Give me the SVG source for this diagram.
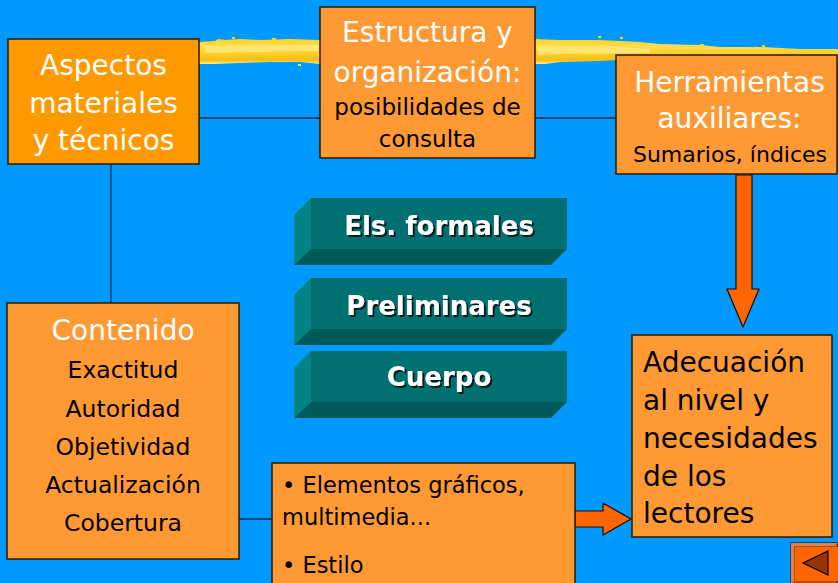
<svg xmlns="http://www.w3.org/2000/svg" width="838" height="583" viewBox="0 0 838 583">
<defs>
<style>
.box{fill:#FF9933;stroke:#2a1a00;stroke-width:1.5}
.wt{font-family:"DejaVu Sans",sans-serif;font-size:28px;fill:#FFFFFF;text-anchor:middle}
.bk{font-family:"DejaVu Sans",sans-serif;fill:#000000}
.bt{font-family:"DejaVu Sans",sans-serif;font-weight:bold;font-size:26px;fill:#FFFFFF;text-anchor:middle;filter:url(#sh)}
.ln{stroke:#0a2f55;stroke-width:1.3;fill:none}
.arr{fill:#FF6600;stroke:#1a0a00;stroke-width:1.2;stroke-linejoin:miter}
</style>
<linearGradient id="yel" x1="0" y1="0" x2="0" y2="1">
<stop offset="0" stop-color="#FFD21E"/>
<stop offset="0.3" stop-color="#FFDD50"/>
<stop offset="0.6" stop-color="#FFCC22"/>
<stop offset="0.85" stop-color="#F2C014"/>
<stop offset="1" stop-color="#FFEE99"/>
</linearGradient>
<filter id="sh" x="-10%" y="-20%" width="120%" height="150%">
<feDropShadow dx="2" dy="2" stdDeviation="0.5" flood-color="#001a1a" flood-opacity="1"/>
</filter>
<g id="slab">
<polygon points="294,17 311,0 311,51 294,67" fill="#008484"/>
<polygon points="311,51 567,51 551,67 294,67" fill="#005A5A"/>
<rect x="311" y="0" width="256" height="51" fill="#007070"/>
</g>
</defs>
<rect x="0" y="0" width="838" height="583" fill="#0099FF"/>
<g id="brush">
<path d="M199,42 L215,41 L218,39 L226,40 L240,39 L262,40 L290,39 L320,40 L535,39 L560,40 L600,40 L640,42 L660,44 L700,45 L720,47 L760,47 L800,49 L838,49 L838,60 L760,58 L700,57 L640,59 L600,61 L560,62 L545,64 L535,64 L320,64 L300,62 L270,62 L240,63 L215,64 L199,64 Z" fill="url(#yel)"/>
<path d="M205,46 L320,45 L320,51 L260,52 L205,53 Z M538,46 L620,47 L650,49 L650,53 L560,54 L538,55 Z" fill="#FFE880" opacity="0.8"/>
<rect x="232" y="37" width="3" height="2" fill="#FFCC22"/>
<rect x="272" y="38" width="4" height="2" fill="#FFCC22"/>
<rect x="598" y="36" width="3" height="2" fill="#FFCC22"/>
<rect x="620" y="37" width="3" height="2" fill="#FFCC22"/>
<rect x="700" y="44" width="4" height="2" fill="#FFCC22"/>
<rect x="762" y="45" width="3" height="2" fill="#FFCC22"/>
<rect x="298" y="64" width="3" height="2" fill="#FFE27A"/>
</g>
<g id="connectors">
<line class="ln" x1="199" y1="118" x2="616" y2="118"/>
<line class="ln" x1="111" y1="164" x2="111" y2="303"/>
<line class="ln" x1="239" y1="519" x2="272" y2="519"/>
<polygon class="arr" points="736,175 752,175 752,289 759,289 743,327 727,289 736,289"/>
<polygon class="arr" points="575,511 603,511 603,503 631,519 603,535 603,527 575,527"/>
</g>
<g id="aspectos">
<rect class="box" x="8" y="39" width="191" height="125" style="fill:#FF9900"/>
<text class="wt" x="103.5" y="75">Aspectos</text>
<text class="wt" x="103.5" y="113">materiales</text>
<text class="wt" x="103.5" y="150">y técnicos</text>
</g>
<g id="estructura">
<rect class="box" x="320" y="7" width="215" height="151"/>
<text class="wt" x="427.5" y="42">Estructura y</text>
<text class="wt" x="427.5" y="82">organización:</text>
<text class="bk" x="427.5" y="115" font-size="23" text-anchor="middle">posibilidades de</text>
<text class="bk" x="427.5" y="147" font-size="23" text-anchor="middle">consulta</text>
</g>
<g id="herramientas">
<rect class="box" x="616" y="55" width="221" height="119"/>
<text class="wt" x="729.5" y="92">Herramientas</text>
<text class="wt" x="729.5" y="128">auxiliares:</text>
<text class="bk" x="730" y="162" font-size="22" text-anchor="middle">Sumarios, índices</text>
</g>
<g id="els-formales">
<use href="#slab" y="198"/>
<text class="bt" x="439" y="235">Els. formales</text>
</g>
<g id="preliminares">
<use href="#slab" y="278"/>
<text class="bt" x="439" y="315">Preliminares</text>
</g>
<g id="cuerpo">
<use href="#slab" y="351"/>
<text class="bt" x="439" y="386">Cuerpo</text>
</g>
<g id="contenido">
<rect class="box" x="7" y="303" width="232" height="256"/>
<text class="wt" x="123" y="340">Contenido</text>
<text class="bk" x="123" y="378" font-size="23.5" text-anchor="middle">Exactitud</text>
<text class="bk" x="123" y="417" font-size="23.5" text-anchor="middle">Autoridad</text>
<text class="bk" x="123" y="455" font-size="23.5" text-anchor="middle">Objetividad</text>
<text class="bk" x="123" y="493" font-size="23.5" text-anchor="middle">Actualización</text>
<text class="bk" x="123" y="531" font-size="23.5" text-anchor="middle">Cobertura</text>
</g>
<g id="elementos">
<rect class="box" x="272" y="463" width="303" height="130"/>
<text class="bk" x="282" y="493" font-size="22.5">• Elementos gráficos,</text>
<text class="bk" x="282" y="525" font-size="22.5">multimedia...</text>
<text class="bk" x="282" y="573" font-size="22.5">• Estilo</text>
</g>
<g id="adecuacion">
<rect class="box" x="632" y="335" width="200" height="202"/>
<text class="bk" x="643" y="372" font-size="28">Adecuación</text>
<text class="bk" x="643" y="410" font-size="28">al nivel y</text>
<text class="bk" x="643" y="448" font-size="28">necesidades</text>
<text class="bk" x="643" y="486" font-size="28">de los</text>
<text class="bk" x="643" y="523" font-size="28">lectores</text>
</g>
<g id="back-button">
<rect x="791" y="543" width="47" height="41" fill="#B84A10" stroke="#000" stroke-width="1"/>
<polygon points="791,543 838,543 835,546 794,546 794,581 791,584" fill="#E0804A"/>
<rect x="795" y="547" width="43" height="34" fill="#FF6600"/>
<polygon points="803,563 828,551 828,575" fill="#993300" stroke="#000" stroke-width="1.2"/>
</g>
</svg>
